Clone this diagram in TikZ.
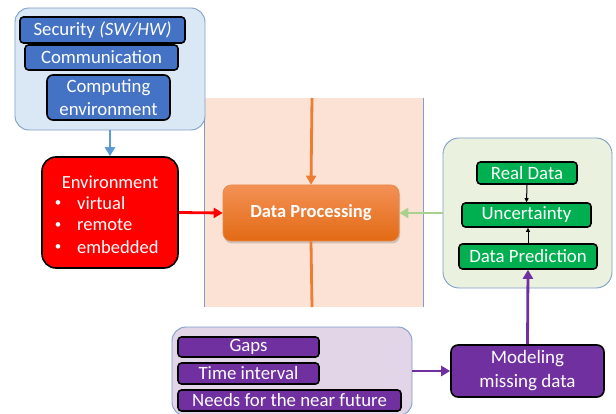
\documentclass[tikz,border=0pt]{standalone}
\usepackage{fontspec}
\setmainfont{Carlito}
\usetikzlibrary{arrows.meta,shadows}
\definecolor{bluefill}{RGB}{218,232,245}
\definecolor{panelline}{RGB}{128,158,200}
\definecolor{darkblue}{RGB}{68,114,196}
\definecolor{arrowblue}{RGB}{91,155,213}
\definecolor{peach}{RGB}{251,226,213}
\definecolor{orangeline}{RGB}{237,125,49}
\definecolor{orangetop}{RGB}{243,145,85}
\definecolor{orangebot}{RGB}{226,106,20}
\definecolor{greenfill}{RGB}{235,241,223}
\definecolor{greenbox}{RGB}{0,176,80}
\definecolor{arrowgreen}{RGB}{169,209,142}
\definecolor{purplefill}{RGB}{225,213,231}
\definecolor{purplebox}{RGB}{112,48,160}
\tikzset{
  panel/.style={draw=panelline, line width=0.9pt, rounded corners=14pt},
  inbox/.style={draw=black, line width=1.6pt, rounded corners=3.5pt, text=white, align=center, inner sep=0pt, font=\fontsize{18.8}{22.5}\selectfont},
  bigarrow/.style={line width=2.8pt, -{Triangle[length=9pt,width=10pt]}},
  smallarrow/.style={line width=1pt, -{Triangle[length=4pt,width=4pt]}},
}
\begin{document}
\begin{tikzpicture}[x=1pt,y=-1pt]
\useasboundingbox (0,0) rectangle (616,414);
\clip (0,0) rectangle (616,414);
% peach background
\fill[peach] (204,98) rectangle (423,307);
\draw[panelline, line width=1pt] (204,98) -- (204,307);
\draw[panelline, line width=1pt] (423,98) -- (423,307);
\coordinate (ptop) at (312,98);
\coordinate (pbot) at (312,307);

% top-left panel
\node[panel, fill=bluefill, minimum width=190pt, minimum height=122pt] (panelblue) at (110,69) {};
\node[inbox, fill=darkblue, minimum width=165pt, minimum height=26pt] (sec) at (102.5,30) {Security \textit{(SW/HW)}};
\node[inbox, fill=darkblue, minimum width=153pt, minimum height=25pt] (comm) at (101.5,57.5) {Communication};
\node[inbox, fill=darkblue, minimum width=123pt, minimum height=45pt, rounded corners=6pt] (comp) at (108.5,97.5) {Computing\\environment};

% environment
\node[draw=black, line width=1.6pt, fill=red, rounded corners=14pt, minimum width=136pt, minimum height=111pt] (env) at (110,212.5) {};
\begin{scope}[every node/.style={text=white, inner sep=0pt, font=\fontsize{18.5}{22}\selectfont}]
\node (envt) at (110,182) {Environment};
\node[font=\fontsize{13}{13}\selectfont] (b1) at (58,204) {\textbullet};
\node[font=\fontsize{13}{13}\selectfont] (b2) at (58,225.5) {\textbullet};
\node[font=\fontsize{13}{13}\selectfont] (b3) at (58,247.5) {\textbullet};
\node[anchor=west] (t1) at (77,203) {virtual};
\node[anchor=west] (t2) at (77,225) {remote};
\node[anchor=west] (t3) at (77,247) {embedded};
\end{scope}

% data processing
\node[rounded corners=8pt, top color=orangetop, bottom color=orangebot, draw=orangebot!80!white, line width=0.6pt, minimum width=176pt, minimum height=56pt, text=white, font=\bfseries\fontsize{18.5}{22}\selectfont, drop shadow={shadow xshift=1pt, shadow yshift=-2.5pt, opacity=0.35}] (dp) at (311,213) {Data Processing};

% green panel
\node[panel, fill=greenfill, rounded corners=16pt, minimum width=169pt, minimum height=150pt] (greenpanel) at (527.5,213) {};
\node[inbox, fill=greenbox, minimum width=100pt, minimum height=22pt] (real) at (527,173) {Real Data};
\node[inbox, fill=greenbox, minimum width=129pt, minimum height=24pt] (unc) at (526.5,215) {Uncertainty};
\node[inbox, fill=greenbox, minimum width=138pt, minimum height=25pt] (pred) at (528,256.5) {Data Prediction};

% purple panel
\node[panel, fill=purplefill, minimum width=240pt, minimum height=89pt] (pp) at (292,371.5) {};
\node[inbox, fill=purplebox, minimum width=141pt, minimum height=20pt] (gaps) at (248.5,347) {Gaps};
\node[inbox, fill=purplebox, minimum width=141pt, minimum height=21pt] (time) at (248.5,373.5) {Time interval};
\node[inbox, fill=purplebox, minimum width=223pt, minimum height=21pt] (needs) at (289.5,400.5) {Needs for the near future};
\node[inbox, fill=purplebox, rounded corners=7pt, minimum width=153pt, minimum height=52pt, font=\fontsize{19}{24}\selectfont] (model) at (527.5,371) {Modeling\\missing data};

% connectors
\draw[bigarrow, arrowblue] (panelblue.south) -- (env.north);
\draw[bigarrow, red] (env.east) -- (dp.west);
\draw[bigarrow, arrowgreen] (greenpanel.west) -- (dp.east);
\draw[bigarrow, orangeline] (ptop) -- (dp.north);
\draw[line width=2.8pt, orangeline] (dp.south) -- (pbot);
\draw[smallarrow, black] (real.south) -- (unc.north);
\draw[smallarrow, black] (pred.north) -- (unc.south -| pred.north);
\draw[bigarrow, purplebox] (pp.east |- model.west) -- (model.west);
\draw[bigarrow, purplebox] (model.north) -- (pred.south);
\end{tikzpicture}
\end{document}
